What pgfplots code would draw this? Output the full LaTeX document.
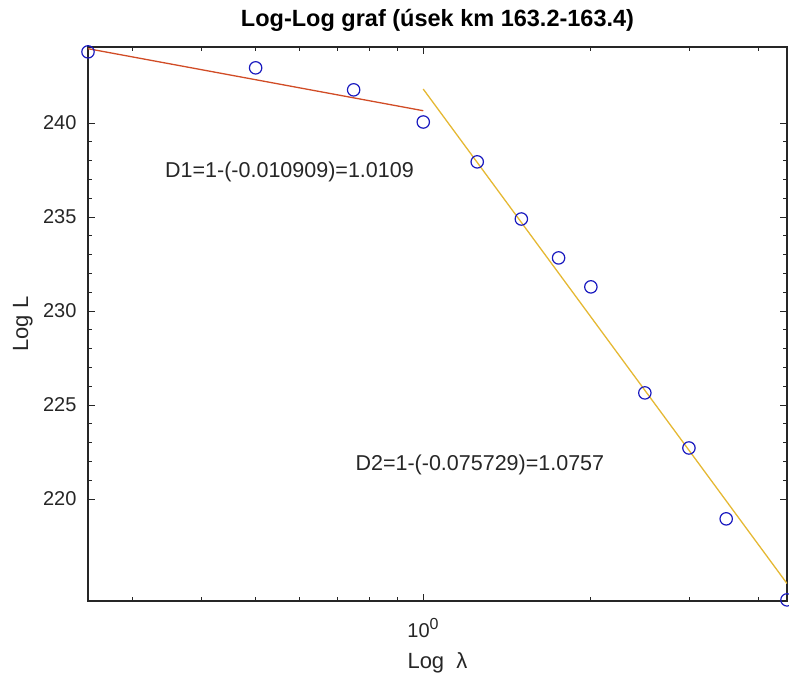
\documentclass[border=0pt]{standalone}
\usepackage{fontspec}
\setmainfont{Liberation Sans}
\usepackage{pgfplots}
\pgfplotsset{compat=1.18}
\definecolor{axgray}{rgb}{0.15,0.15,0.15}
\definecolor{mred}{rgb}{0.82,0.3,0.15}
\definecolor{myel}{rgb}{0.9,0.72,0.2}
\definecolor{mblue}{rgb}{0.1,0.1,0.75}
\begin{document}
\begin{tikzpicture}
\useasboundingbox (0,0) rectangle (789pt,675pt);
\begin{axis}[
  at={(88pt,74pt)}, anchor=south west,
  width=699pt, height=554pt, scale only axis,
  xmode=log, xmin=0.25, xmax=4.5,
  ymin=214.57, ymax=244.04,
  xtick={1}, xticklabels={10\textsuperscript{\fontsize{16}{18}\selectfont 0}},
  minor xtick={0.3,0.4,0.5,0.6,0.7,0.8,0.9,2,3,4},
  ytick={220,225,230,235,240},
  minor y tick num=4,
  /pgf/number format/assume math mode=true,
  tick align=inside,
  major tick length=7pt, minor tick length=4pt,
  every tick/.style={axgray, line width=0.8pt},
  every minor tick/.style={axgray, line width=0.8pt},
  axis line style={axgray, line width=1.2pt},
  tick label style={font=\fontsize{20}{24}\selectfont, text=axgray},
  yticklabel style={xshift=-8pt},
  xticklabel style={yshift=-14pt},
  title={\textbf{Log-Log graf (úsek km 163.2-163.4)}},
  title style={font=\fontsize{23.5}{28}\selectfont, at={(axis description cs:0.5,1.026)}, anchor=base},
  xlabel={Log\ \ λ},
  xlabel style={font=\fontsize{22}{26}\selectfont, text=axgray, at={(axis description cs:0.5,-0.121)}, anchor=base},
  ylabel={Log L},
  ylabel style={font=\fontsize{22}{26}\selectfont, text=axgray, at={(axis description cs:-0.0858,0.5)}, anchor=base},
  clip marker paths=false,
]
\addplot[only marks, mark=o, mark size=6.2pt, mark options={mblue, line width=1.2pt}] coordinates {
(0.25,243.78) (0.5,242.93) (0.75,241.76) (1,240.05) (1.25,237.93) (1.5,234.89)
(1.75,232.82) (2,231.28) (2.5,225.64) (3,222.71) (3.5,218.94) (4.5,214.63)
};
\addplot[mred, line width=1.3pt] coordinates {(0.25,243.95) (1,240.65)};
\addplot[myel, line width=1.3pt] coordinates {(1,241.8) (4.5,215.5)};
\node[anchor=west, font=\fontsize{21.5}{26}\selectfont, text=black!85] at (axis cs:0.339,237.4) {D1=1-(-0.010909)=1.0109};
\node[anchor=west, font=\fontsize{21.5}{26}\selectfont, text=black!85] at (axis cs:0.745,221.8) {D2=1-(-0.075729)=1.0757};
\end{axis}
\end{tikzpicture}
\end{document}
